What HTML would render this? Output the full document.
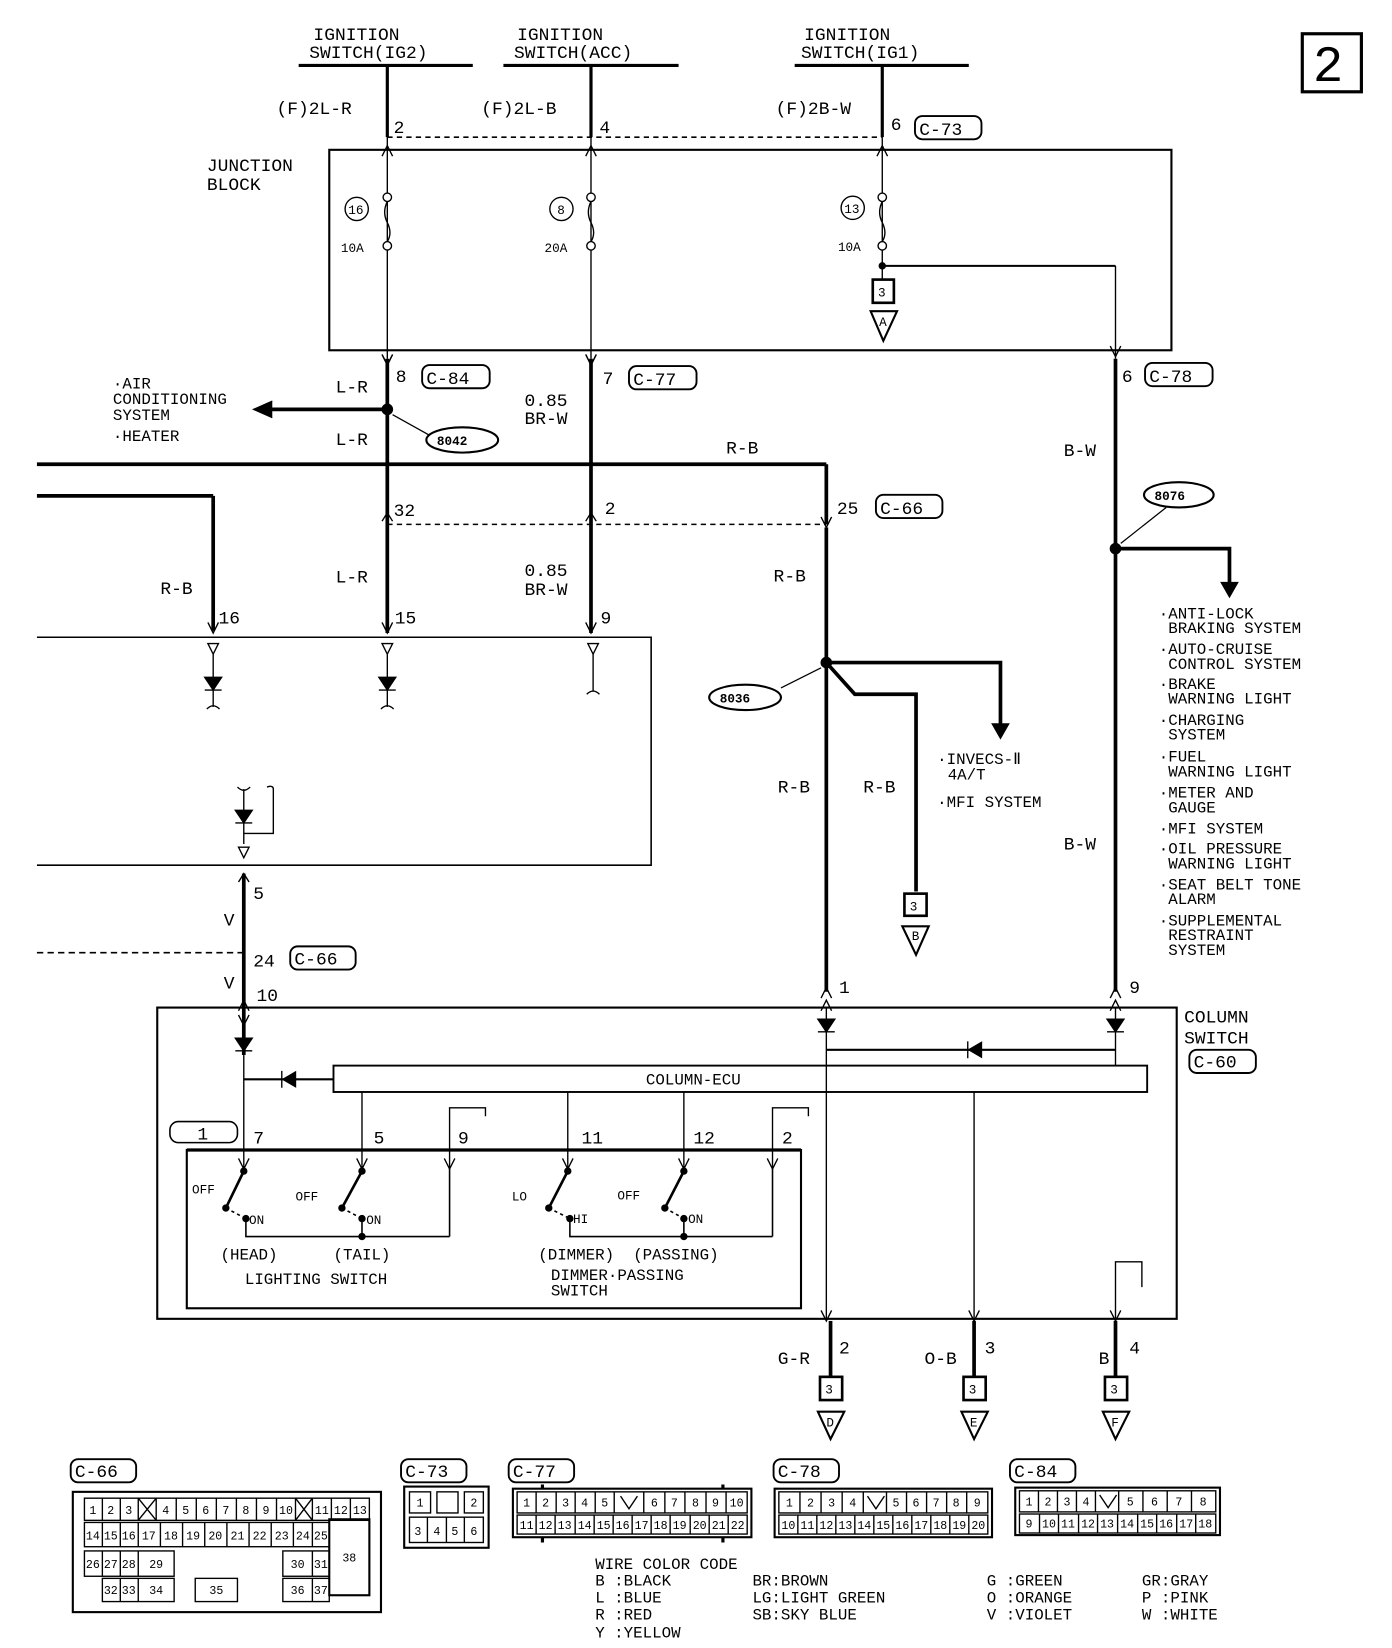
<!DOCTYPE html>
<html><head><meta charset="utf-8"><style>
html,body{margin:0;padding:0;background:#fff}
svg{display:block}
text{font-family:"Liberation Mono",monospace;fill:#000}
.n{font-size:11px;text-anchor:middle}
</style></head><body>
<svg width="1392" height="1648" viewBox="0 0 1319 1562" preserveAspectRatio="none" xmlns="http://www.w3.org/2000/svg">
<g stroke="#000" fill="none">
<rect x="1234" y="32" width="56" height="55" stroke-width="3"/>
<g stroke-width="3"><line x1="283" y1="62" x2="448" y2="62"/><line x1="477" y1="62" x2="643" y2="62"/><line x1="753" y1="62" x2="918" y2="62"/>
<line x1="367" y1="62" x2="367" y2="130"/><line x1="560" y1="62" x2="560" y2="130"/><line x1="836" y1="62" x2="836" y2="130"/></g>
<line x1="367" y1="130" x2="836" y2="130" stroke-dasharray="5,4" stroke-width="1.5"/>
<rect x="312" y="142" width="798" height="190" stroke-width="2"/>
<g stroke-width="1.3">
<line x1="367" y1="130" x2="367" y2="340"/><line x1="560" y1="130" x2="560" y2="340"/><line x1="836" y1="130" x2="836" y2="265"/>
<path d="M362,148 L367,138 L372,148 M362,336 L367,346 L372,336 M555,148 L560,138 L565,148 M555,336 L560,346 L565,336 M831,148 L836,138 L841,148 M1052,328 L1057,338 L1062,328"/>
<circle cx="367" cy="187" r="4" fill="#fff"/><circle cx="367" cy="233" r="4" fill="#fff"/>
<circle cx="560" cy="187" r="4" fill="#fff"/><circle cx="560" cy="233" r="4" fill="#fff"/>
<circle cx="836" cy="187" r="4" fill="#fff"/><circle cx="836" cy="233" r="4" fill="#fff"/>
<path d="M367,191 q-5,10 0,20 q5,10 0,18 M560,191 q-5,10 0,20 q5,10 0,18 M836,191 q-5,10 0,20 q5,10 0,18" fill="none"/>
<circle cx="338" cy="198" r="11"/><circle cx="532" cy="198" r="11"/><circle cx="808" cy="197" r="11"/>
<line x1="1057" y1="252" x2="1057" y2="340"/>
</g>
<line x1="836" y1="252" x2="1057" y2="252" stroke-width="2"/>
<circle cx="836" cy="252" r="3" fill="#000"/>
<rect x="827" y="265" width="20" height="22" stroke-width="2.5"/>
<path d="M825,295 L850,295 L837,323 Z" stroke-width="2"/>
<g stroke-width="3.5">
<line x1="367" y1="340" x2="367" y2="600"/><line x1="560" y1="340" x2="560" y2="600"/><line x1="1057" y1="340" x2="1057" y2="940"/>
<line x1="35" y1="440" x2="783" y2="440"/><line x1="783" y1="440" x2="783" y2="497"/>
<line x1="783" y1="500" x2="783" y2="940"/>
<line x1="35" y1="470" x2="202" y2="470"/><line x1="202" y1="470" x2="202" y2="598"/>
<line x1="367" y1="388" x2="255" y2="388"/>
<path d="M783,628 L810,658 L868,658 L868,845"/>
<path d="M783,628 L948,628 L948,690"/>
<path d="M1057,520 L1165,520 L1165,555"/>
<line x1="231" y1="828" x2="231" y2="1000"/>
</g>
<path d="M240,380 L258,388 L240,396" fill="#000" transform="rotate(180 249 388)"/>
<path d="M940,686 L948,700 L956,686 Z" fill="#000"/>
<path d="M1157,552 L1165,566 L1173,552 Z" fill="#000"/>
<circle cx="367" cy="388" r="5" fill="#000"/><circle cx="783" cy="628" r="5" fill="#000"/><circle cx="1057" cy="520" r="5" fill="#000"/>
<path d="M362,336 L367,346 L372,336 M555,336 L560,346 L565,336" stroke-width="1.3"/>
<line x1="367" y1="497" x2="783" y2="497" stroke-dasharray="5,4" stroke-width="1.5"/>
<path d="M362,494 L367,486 L372,494 M555,494 L560,486 L565,494 M778,490 L783,500 L788,490 M197,590 L202,600 L207,590 M362,590 L367,600 L372,590 M555,590 L560,600 L565,590" stroke-width="1.3"/>
<line x1="35" y1="903" x2="231" y2="903" stroke-dasharray="6,4" stroke-width="1.5"/>
<ellipse cx="438" cy="417" rx="34" ry="12" stroke-width="2"/><ellipse cx="706" cy="661" rx="34" ry="12" stroke-width="2"/><ellipse cx="1117" cy="469" rx="33" ry="12" stroke-width="2"/>
<path d="M406,412 L372,393 M740,652 L778,633 M1105,481 L1062,515" stroke-width="1.2"/>
<path d="M35,604 L617,604 L617,820 L35,820" stroke-width="1.5"/>
<g stroke-width="1.3">
<path d="M197,610 L207,610 L202,620 Z M362,610 L372,610 L367,620 Z M557,610 L567,610 L562,620 Z"/>
<line x1="202" y1="620" x2="202" y2="670"/><line x1="367" y1="620" x2="367" y2="670"/><line x1="562" y1="620" x2="562" y2="655"/>
<path d="M194,642 L210,642 L202,654 Z M359,642 L375,642 L367,654 Z" fill="#000"/>
<line x1="194" y1="654" x2="210" y2="654"/><line x1="359" y1="654" x2="375" y2="654"/>
<path d="M196,672 q6,-6 12,0 M361,672 q6,-6 12,0 M556,658 q6,-6 12,0"/>
<path d="M225,746 q6,6 12,0 M231,748 L231,800 M253,746 q6,-2 6,2 L259,790 L231,790"/>
<path d="M223,768 L239,768 L231,780 Z" fill="#000"/><line x1="223" y1="780" x2="239" y2="780"/>
<path d="M226,803 L236,803 L231,813 Z"/>
<path d="M226,836 L231,828 L236,836 M226,958 L231,948 L236,958 M226,962 L231,972 L236,962"/>
</g>
<rect x="149" y="955" width="966" height="295" stroke-width="2"/>
<rect x="316" y="1010" width="771" height="25" stroke-width="1.8"/>
<g stroke-width="1.3">
<path d="M778,946 L783,936 L788,946 M778,958 L783,948 L788,958 M1052,946 L1057,936 L1062,946 M1052,958 L1057,948 L1062,958"/>
<line x1="783" y1="955" x2="783" y2="1250"/><line x1="1057" y1="955" x2="1057" y2="1010"/>
<path d="M775,966 L791,966 L783,978 Z M1049,966 L1065,966 L1057,978 Z M223,984 L239,984 L231,996 Z" fill="#000"/>
<path d="M775,978 L791,978 M1049,978 L1065,978 M223,996 L239,996"/>
<line x1="783" y1="995" x2="1057" y2="995" stroke-width="2"/>
<path d="M930,988 L918,995 L930,1002 Z" fill="#000"/><line x1="917" y1="987" x2="917" y2="1003"/>
<line x1="231" y1="1000" x2="231" y2="1105"/>
<line x1="231" y1="1023" x2="316" y2="1023" stroke-width="2"/>
<path d="M280,1016 L268,1023 L280,1030 Z" fill="#000"/><line x1="267" y1="1015" x2="267" y2="1031"/>
<line x1="343" y1="1035" x2="343" y2="1105"/><line x1="538" y1="1035" x2="538" y2="1105"/><line x1="648" y1="1035" x2="648" y2="1105"/>
<line x1="923" y1="1035" x2="923" y2="1250"/>
<path d="M426,1105 L426,1050 L460,1050 L460,1058 M732,1105 L732,1050 L766,1050 L766,1058"/>
<path d="M226,1098 L231,1108 L236,1098 M338,1098 L343,1108 L348,1098 M421,1098 L426,1108 L431,1098 M533,1098 L538,1108 L543,1098 M643,1098 L648,1108 L653,1098 M727,1098 L732,1108 L737,1098"/>
<path d="M1057,1250 L1057,1196 L1082,1196 L1082,1220"/>
<path d="M778,1242 L783,1252 L788,1242 M918,1242 L923,1252 L928,1242 M1052,1242 L1057,1252 L1062,1242"/>
</g>
<rect x="177" y="1090" width="582" height="150" stroke-width="2"/>
<line x1="177" y1="1090" x2="759" y2="1090" stroke-width="3"/>
<rect x="161" y="1063" width="64" height="20" rx="8" stroke-width="1.5"/>
<g stroke-width="1.5">
<line x1="231" y1="1105" x2="231" y2="1110"/><line x1="343" y1="1105" x2="343" y2="1110"/><line x1="426" y1="1105" x2="426" y2="1172"/>
<line x1="538" y1="1105" x2="538" y2="1110"/><line x1="648" y1="1105" x2="648" y2="1110"/><line x1="732" y1="1105" x2="732" y2="1172"/>
<path d="M231,1110 L214,1145 M343,1110 L324,1145 M538,1110 L520,1145 M648,1110 L630,1145" stroke-width="2.5"/>
<path d="M214,1145 L233,1155 M324,1145 L343,1155 M520,1145 L540,1155 M630,1145 L648,1155" stroke-dasharray="3,3"/>
<path d="M233,1155 L233,1172 L426,1172 M343,1155 L343,1172 M540,1155 L540,1172 L732,1172 M648,1155 L648,1172"/>
</g>
<g fill="#000">
<circle cx="231" cy="1110" r="3"/><circle cx="343" cy="1110" r="3"/><circle cx="538" cy="1110" r="3"/><circle cx="648" cy="1110" r="3"/>
<circle cx="214" cy="1145" r="3"/><circle cx="324" cy="1145" r="3"/><circle cx="520" cy="1145" r="3"/><circle cx="630" cy="1145" r="3"/>
<circle cx="233" cy="1155" r="3"/><circle cx="343" cy="1155" r="3"/><circle cx="540" cy="1155" r="3"/><circle cx="648" cy="1155" r="3"/>
<circle cx="343" cy="1172" r="3"/><circle cx="648" cy="1172" r="3"/>
</g>
<g stroke-width="3.5"><line x1="787" y1="1252" x2="787" y2="1305"/><line x1="923" y1="1252" x2="923" y2="1305"/><line x1="1057" y1="1252" x2="1057" y2="1305"/></g>
<g stroke-width="2.5"><rect x="777" y="1305" width="21" height="22"/><rect x="913" y="1305" width="21" height="22"/><rect x="1047" y="1305" width="21" height="22"/>
<rect x="857" y="847" width="21" height="21"/></g>
<g stroke-width="2"><path d="M775,1338 L800,1338 L787,1364 Z M911,1338 L936,1338 L923,1364 Z M1045,1338 L1070,1338 L1057,1364 Z M855,878 L880,878 L868,905 Z"/></g>
<g stroke-width="1.8">
<rect x="867" y="110" width="63" height="22" rx="7"/><rect x="400" y="346" width="64" height="22" rx="7"/><rect x="596" y="347" width="64" height="22" rx="7"/><rect x="1085" y="344" width="64" height="22" rx="7"/>
<rect x="830" y="469" width="63" height="22" rx="7"/><rect x="275" y="897" width="62" height="22" rx="7"/><rect x="1127" y="995" width="63" height="22" rx="7"/>
<rect x="67" y="1383" width="62" height="22" rx="7"/><rect x="380" y="1383" width="62" height="22" rx="7"/><rect x="482" y="1383" width="62" height="22" rx="7"/><rect x="733" y="1383" width="62" height="22" rx="7"/><rect x="957" y="1383" width="62" height="22" rx="7"/>
</g>
<!-- bottom connectors -->
<g stroke-width="2">
<rect x="69" y="1414" width="292" height="114"/>
<rect x="383" y="1409" width="80" height="58"/>
<rect x="486" y="1411" width="226" height="46"/>
<rect x="734" y="1411" width="206" height="46"/>
<rect x="962" y="1410" width="194" height="45"/>
</g>
<g stroke-width="1.3">
<!-- C-66 -->
<rect x="80" y="1420" width="270" height="21"/>
<path d="M97,1420v21M114,1420v21M131,1420v21M148,1420v21M167,1420v21M186,1420v21M205,1420v21M224,1420v21M243,1420v21M262,1420v21M280,1420v21M296,1420v21M314,1420v21M332,1420v21"/>
<path d="M131,1420l17,21M148,1420l-17,21M280,1420l16,21M296,1420l-16,21"/>
<rect x="80" y="1443" width="232" height="23"/>
<path d="M97,1443v23M114,1443v23M131,1443v23M152,1443v23M173,1443v23M194,1443v23M215,1443v23M236,1443v23M257,1443v23M278,1443v23M296,1443v23"/>
<rect x="312" y="1440" width="38" height="72" stroke-width="2"/>
<rect x="80" y="1470" width="85" height="24"/><path d="M97,1470v24M114,1470v24M131,1470v24"/>
<rect x="268" y="1470" width="44" height="24"/><path d="M296,1470v24"/>
<rect x="97" y="1496" width="68" height="22"/><path d="M114,1496v22M131,1496v22"/>
<rect x="185" y="1496" width="40" height="22"/>
<rect x="268" y="1496" width="44" height="22"/><path d="M296,1496v22"/>
<!-- C-73 -->
<rect x="388" y="1414" width="20" height="20"/><rect x="414" y="1414" width="20" height="20"/><rect x="440" y="1414" width="18" height="20"/>
<rect x="388" y="1438" width="70" height="24"/><path d="M405,1438v24M423,1438v24M440,1438v24"/>
<!-- C-77 -->
<rect x="490" y="1414" width="218" height="20"/>
<path d="M508,1414v20M527,1414v20M545,1414v20M564,1414v20M582,1414v20M610,1414v20M630,1414v20M649,1414v20M669,1414v20M688,1414v20"/>
<path d="M588,1418l8,12l8,-12"/>
<rect x="490" y="1436" width="218" height="18"/>
<path d="M508,1436v18M526,1436v18M545,1436v18M563,1436v18M581,1436v18M599,1436v18M617,1436v18M635,1436v18M654,1436v18M672,1436v18M690,1436v18"/>
<path d="M514,1407v4M514,1457v5M685,1407v4M685,1457v5" stroke-width="3"/>
<!-- C-78 -->
<rect x="738" y="1414" width="198" height="20"/>
<path d="M758,1414v20M778,1414v20M798,1414v20M818,1414v20M840,1414v20M859,1414v20M878,1414v20M897,1414v20M916,1414v20"/>
<path d="M822,1418l8,12l8,-12"/>
<rect x="738" y="1436" width="198" height="18"/>
<path d="M756,1436v18M774,1436v18M792,1436v18M810,1436v18M828,1436v18M846,1436v18M864,1436v18M882,1436v18M900,1436v18M918,1436v18"/>
<!-- C-84 -->
<rect x="966" y="1413" width="186" height="20"/>
<path d="M984,1413v20M1002,1413v20M1020,1413v20M1038,1413v20M1060,1413v20M1083,1413v20M1106,1413v20M1129,1413v20"/>
<path d="M1042,1417l8,12l8,-12"/>
<rect x="966" y="1435" width="186" height="18"/>
<path d="M985,1435v18M1003,1435v18M1022,1435v18M1040,1435v18M1059,1435v18M1078,1435v18M1096,1435v18M1115,1435v18M1133,1435v18"/>
</g>
</g>
<g font-size="17">
<text x="297" y="38">IGNITION</text><text x="293" y="55">SWITCH(IG2)</text>
<text x="490" y="38">IGNITION</text><text x="487" y="55">SWITCH(ACC)</text>
<text x="762" y="38">IGNITION</text><text x="759" y="55">SWITCH(IG1)</text>
<text x="262" y="108">(F)2L-R</text><text x="456" y="108">(F)2L-B</text><text x="735" y="108">(F)2B-W</text>
<text x="373" y="126">2</text><text x="568" y="126">4</text><text x="844" y="123">6</text><text x="871" y="128">C-73</text>
<text x="196" y="162">JUNCTION</text><text x="196" y="180">BLOCK</text>
<text x="375" y="362">8</text><text x="404" y="364">C-84</text><text x="571" y="364">7</text><text x="600" y="365">C-77</text><text x="1063" y="362">6</text><text x="1089" y="362">C-78</text>
<text x="318" y="372">L-R</text><text x="318" y="422">L-R</text><text x="688" y="430">R-B</text><text x="1008" y="432">B-W</text>
<text x="497" y="385">0.85</text><text x="497" y="402">BR-W</text>
<text x="373" y="489">32</text><text x="573" y="487">2</text><text x="793" y="487">25</text><text x="834" y="487">C-66</text>
<text x="152" y="563">R-B</text><text x="318" y="552">L-R</text><text x="497" y="546">0.85</text><text x="497" y="564">BR-W</text><text x="733" y="551">R-B</text>
<text x="207" y="591">16</text><text x="374" y="591">15</text><text x="569" y="591">9</text>
<text x="737" y="751">R-B</text><text x="818" y="751">R-B</text><text x="1008" y="805">B-W</text>
<text x="240" y="852">5</text><text x="212" y="877">V</text><text x="240" y="916">24</text><text x="279" y="914">C-66</text><text x="212" y="937">V</text><text x="243" y="949">10</text>
<text x="795" y="941">1</text><text x="1070" y="941">9</text>
<text x="1122" y="969">COLUMN</text><text x="1122" y="989">SWITCH</text><text x="1131" y="1012">C-60</text>
<text x="240" y="1084">7</text><text x="354" y="1084">5</text><text x="434" y="1084">9</text><text x="551" y="1084">11</text><text x="657" y="1084">12</text><text x="741" y="1084">2</text>
<text x="187" y="1080">1</text>
<text x="737" y="1293">G-R</text><text x="795" y="1283">2</text><text x="876" y="1293">O-B</text><text x="933" y="1283">3</text><text x="1041" y="1293">B</text><text x="1070" y="1283">4</text>
<text x="71" y="1400">C-66</text><text x="384" y="1400">C-73</text><text x="486" y="1400">C-77</text><text x="737" y="1400">C-78</text><text x="961" y="1400">C-84</text>
<text x="1244" y="77" font-size="48">2</text>
</g>
<g font-size="15">
<text x="107" y="368">·AIR</text><text x="107" y="383">CONDITIONING</text><text x="107" y="398">SYSTEM</text><text x="107" y="418">·HEATER</text>
<text x="888" y="724">·INVECS-Ⅱ</text><text x="898" y="739">4A/T</text><text x="888" y="765">·MFI SYSTEM</text>
<text x="1098" y="586">·ANTI-LOCK</text><text x="1107" y="600">BRAKING SYSTEM</text>
<text x="1098" y="620">·AUTO-CRUISE</text><text x="1107" y="634">CONTROL SYSTEM</text>
<text x="1098" y="653">·BRAKE</text><text x="1107" y="667">WARNING LIGHT</text>
<text x="1098" y="687">·CHARGING</text><text x="1107" y="701">SYSTEM</text>
<text x="1098" y="722">·FUEL</text><text x="1107" y="736">WARNING LIGHT</text>
<text x="1098" y="756">·METER AND</text><text x="1107" y="770">GAUGE</text>
<text x="1098" y="790">·MFI SYSTEM</text>
<text x="1098" y="809">·OIL PRESSURE</text><text x="1107" y="823">WARNING LIGHT</text>
<text x="1098" y="843">·SEAT BELT TONE</text><text x="1107" y="857">ALARM</text>
<text x="1098" y="877">·SUPPLEMENTAL</text><text x="1107" y="891">RESTRAINT</text><text x="1107" y="905">SYSTEM</text>
<text x="612" y="1028">COLUMN-ECU</text>
<text x="209" y="1194">(HEAD)</text><text x="316" y="1194">(TAIL)</text><text x="232" y="1217">LIGHTING SWITCH</text>
<text x="510" y="1194">(DIMMER)</text><text x="600" y="1194">(PASSING)</text><text x="522" y="1213">DIMMER·PASSING</text><text x="522" y="1228">SWITCH</text>
<text x="564" y="1487">WIRE COLOR CODE</text>
<text x="564" y="1503">B :BLACK</text><text x="564" y="1519">L :BLUE</text><text x="564" y="1535">R :RED</text><text x="564" y="1552">Y :YELLOW</text>
<text x="713" y="1503">BR:BROWN</text><text x="713" y="1519">LG:LIGHT GREEN</text><text x="713" y="1535">SB:SKY BLUE</text>
<text x="935" y="1503">G :GREEN</text><text x="935" y="1519">O :ORANGE</text><text x="935" y="1535">V :VIOLET</text>
<text x="1082" y="1503">GR:GRAY</text><text x="1082" y="1519">P :PINK</text><text x="1082" y="1535">W :WHITE</text>
</g>
<g font-size="12">
<text x="330" y="203">16</text><text x="528" y="203">8</text><text x="800" y="202">13</text>
<text x="323" y="239">10A</text><text x="516" y="239">20A</text><text x="794" y="238">10A</text>
<text x="832" y="281">3</text><text x="833" y="309">A</text><text x="862" y="863">3</text><text x="864" y="891">B</text>
<text x="782" y="1321">3</text><text x="918" y="1321">3</text><text x="1052" y="1321">3</text>
<text x="783" y="1352">D</text><text x="919" y="1352">E</text><text x="1053" y="1352">F</text>
<text x="414" y="422" font-weight="bold">8042</text><text x="682" y="666" font-weight="bold">8036</text><text x="1094" y="474" font-weight="bold">8076</text>
<text x="182" y="1131">OFF</text><text x="280" y="1138">OFF</text><text x="236" y="1160">ON</text><text x="347" y="1160">ON</text>
<text x="485" y="1138">LO</text><text x="585" y="1137">OFF</text><text x="543" y="1159">HI</text><text x="652" y="1159">ON</text>
</g>
<g class="n">
<text x="88" y="1435">1</text><text x="105" y="1435">2</text><text x="122" y="1435">3</text><text x="157" y="1435">4</text><text x="176" y="1435">5</text><text x="195" y="1435">6</text><text x="214" y="1435">7</text><text x="233" y="1435">8</text><text x="252" y="1435">9</text><text x="271" y="1435">10</text><text x="305" y="1435">11</text><text x="323" y="1435">12</text><text x="341" y="1435">13</text>
<text x="88" y="1459">14</text><text x="105" y="1459">15</text><text x="122" y="1459">16</text><text x="141" y="1459">17</text><text x="162" y="1459">18</text><text x="183" y="1459">19</text><text x="204" y="1459">20</text><text x="225" y="1459">21</text><text x="246" y="1459">22</text><text x="267" y="1459">23</text><text x="287" y="1459">24</text><text x="304" y="1459">25</text>
<text x="88" y="1486">26</text><text x="105" y="1486">27</text><text x="122" y="1486">28</text><text x="148" y="1486">29</text><text x="282" y="1486">30</text><text x="304" y="1486">31</text><text x="331" y="1480">38</text>
<text x="105" y="1511">32</text><text x="122" y="1511">33</text><text x="148" y="1511">34</text><text x="205" y="1511">35</text><text x="282" y="1511">36</text><text x="304" y="1511">37</text>
<text x="398" y="1428">1</text><text x="449" y="1428">2</text><text x="396" y="1455">3</text><text x="414" y="1455">4</text><text x="431" y="1455">5</text><text x="449" y="1455">6</text>
<text x="499" y="1428">1</text><text x="517" y="1428">2</text><text x="536" y="1428">3</text><text x="554" y="1428">4</text><text x="573" y="1428">5</text><text x="620" y="1428">6</text><text x="639" y="1428">7</text><text x="659" y="1428">8</text><text x="678" y="1428">9</text><text x="698" y="1428">10</text>
<text x="499" y="1449">11</text><text x="517" y="1449">12</text><text x="535" y="1449">13</text><text x="554" y="1449">14</text><text x="572" y="1449">15</text><text x="590" y="1449">16</text><text x="608" y="1449">17</text><text x="626" y="1449">18</text><text x="644" y="1449">19</text><text x="663" y="1449">20</text><text x="681" y="1449">21</text><text x="699" y="1449">22</text>
<text x="748" y="1428">1</text><text x="768" y="1428">2</text><text x="788" y="1428">3</text><text x="808" y="1428">4</text><text x="849" y="1428">5</text><text x="868" y="1428">6</text><text x="887" y="1428">7</text><text x="906" y="1428">8</text><text x="926" y="1428">9</text>
<text x="747" y="1449">10</text><text x="765" y="1449">11</text><text x="783" y="1449">12</text><text x="801" y="1449">13</text><text x="819" y="1449">14</text><text x="837" y="1449">15</text><text x="855" y="1449">16</text><text x="873" y="1449">17</text><text x="891" y="1449">18</text><text x="909" y="1449">19</text><text x="927" y="1449">20</text>
<text x="975" y="1427">1</text><text x="993" y="1427">2</text><text x="1011" y="1427">3</text><text x="1029" y="1427">4</text><text x="1071" y="1427">5</text><text x="1094" y="1427">6</text><text x="1117" y="1427">7</text><text x="1140" y="1427">8</text>
<text x="975" y="1448">9</text><text x="994" y="1448">10</text><text x="1012" y="1448">11</text><text x="1031" y="1448">12</text><text x="1049" y="1448">13</text><text x="1068" y="1448">14</text><text x="1087" y="1448">15</text><text x="1105" y="1448">16</text><text x="1124" y="1448">17</text><text x="1142" y="1448">18</text>
</g>
</svg>
</body></html>
